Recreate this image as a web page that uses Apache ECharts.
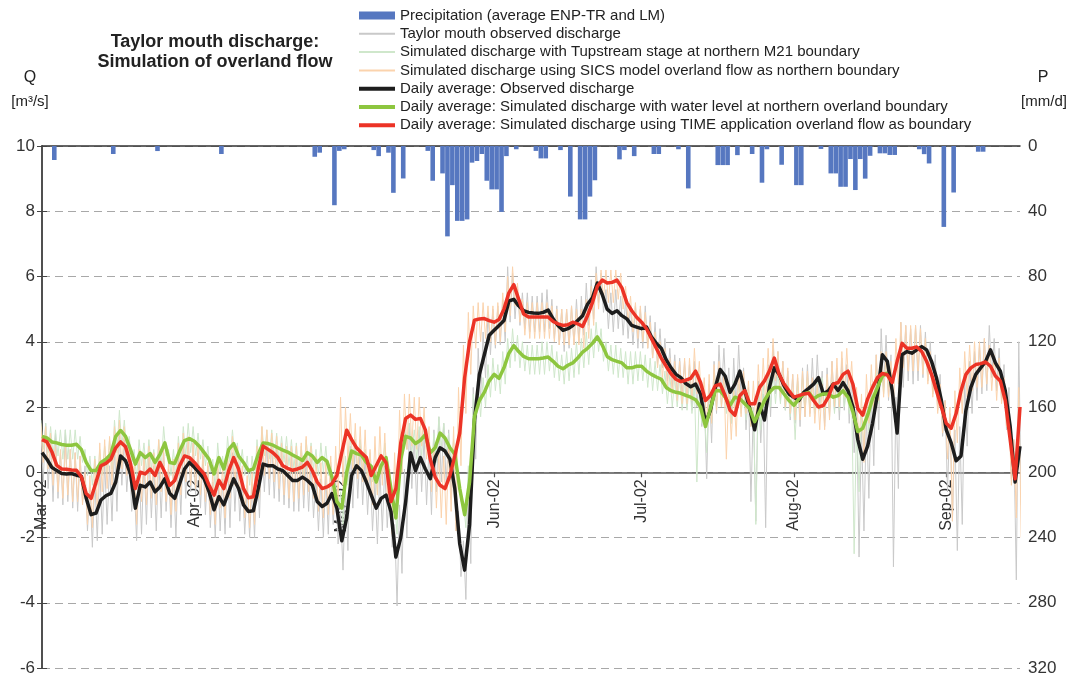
<!DOCTYPE html>
<html>
<head>
<meta charset="utf-8">
<script src="https://cdn.jsdelivr.net/npm/echarts@6/dist/echarts.min.js"></script>
<style>
  html, body { margin: 0; padding: 0; background: #fff; }
  #chart { width: 1074px; height: 677px; }
</style>
</head>
<body>
<div id="chart"></div>
<script>
// Day index 0 = 1 March 2002
const monthStartDays = [0, 31, 61, 92, 122, 153, 184];
const monthLabels = ['Mar-02', 'Apr-02', 'May-02', 'Jun-02', 'Jul-02', 'Aug-02', 'Sep-02'];
const qTicks = { min: -6, max: 10, step: 2 };
const pTicks = { min: 0, max: 320, step: 40 };

// Daily precipitation, mm/d
const precipDay = [2, 14, 23, 36, 55, 56, 59, 60, 61, 67, 68, 70, 71, 73, 78, 79, 81, 82, 83, 84,
  85, 86, 87, 88, 89, 90, 91, 92, 93, 94, 96, 100, 101, 102, 105, 107, 109, 110, 111, 112,
  117, 118, 120, 124, 125, 129, 131, 137, 138, 139, 141, 144, 146, 147, 150, 153, 154, 158, 160, 161,
  162, 163, 164, 165, 166, 167, 168, 170, 171, 172, 173, 178, 179, 180, 183, 185, 190, 191];
const precipMm = [8.6, 4.9, 3.1, 4.9, 6.6, 4.1, 36.3, 3, 2, 2.5, 6.2, 4.1, 28.7, 19.9, 3, 21.3, 16.8, 55.4, 24, 45.9,
  45.9, 45, 10.2, 9.2, 4.9, 21.3, 26.6, 26.6, 40.4, 6.2, 2, 3, 7.6, 7.6, 2.5, 31, 45, 45, 31, 21,
  8.2, 2.5, 6.2, 4.9, 4.9, 2, 26, 11.7, 11.7, 11.7, 5.6, 4.9, 22.5, 2, 11.5, 24, 24, 1.8, 16.8, 16.8,
  25, 25, 8, 27, 8, 20, 6, 4.5, 4.5, 5.5, 5.5, 2, 5, 10.7, 49.6, 28.5, 3.5, 3.5];

// Daily average discharge, m3/s
const observedDaily = [0.6,0.4,0.15,0.05,-0.04,-0.05,-0.04,-0.09,-0.12,-0.8,
  -1.3,-1.25,-0.85,-0.72,-0.65,-0.3,0.5,0.35,-0.04,-1.1,
  -0.4,-0.45,-0.3,-0.6,-0.45,-0.2,-0.65,-0.8,-0.35,0.1,
  0.3,0.15,-0.02,-0.2,-0.6,-1.15,-0.75,-1.0,-0.6,-0.2,
  -0.5,-1.0,-1.2,-1.18,-0.5,0.25,0.2,0.2,0.1,0.05,
  -0.1,-0.25,-0.25,-0.15,-0.25,-0.4,-0.9,-1.05,-0.95,-0.65,
  -1.1,-2.1,-1.4,-0.1,0.2,0.05,-0.3,-0.7,-1.1,-0.8,
  -0.7,-1.2,-2.6,-2.0,-0.9,0.6,0.05,0.45,0.1,-0.2,
  0.45,0.75,0.65,0.4,-0.5,-2.2,-3.0,-1.6,1.6,3.0,
  3.6,4.2,4.35,4.5,4.65,5.25,5.3,5.1,4.95,4.9,
  4.88,4.87,4.9,4.97,4.7,4.5,4.35,4.4,4.5,4.65,
  4.8,5.15,5.35,5.8,5.45,5.0,4.87,4.95,4.8,4.7,
  4.5,4.45,4.4,4.45,4.15,3.95,3.8,3.45,3.2,3.0,
  2.9,2.72,2.62,2.7,2.4,1.5,1.9,2.6,3.15,2.95,
  2.45,2.7,3.1,2.5,1.95,1.3,2.1,1.6,2.6,3.2,
  3.0,2.65,2.4,2.3,2.2,2.45,2.57,2.7,2.9,2.4,
  2.5,2.7,2.5,2.75,2.5,2.0,1.0,0.4,0.8,1.5,
  2.4,3.6,3.4,2.5,1.2,3.6,3.7,3.65,3.75,3.85,
  3.75,3.4,2.9,2.2,1.3,0.9,0.35,0.5,1.9,2.6,
  3.0,3.2,3.4,3.75,3.35,3.1,2.5,1.4,-0.3,0.8];

const waterLevelDaily = [1.1,1.05,0.93,0.9,0.85,0.83,0.83,0.86,0.7,0.3,
  0.05,0.05,0.3,0.4,0.55,1.1,1.28,1.1,0.7,0.25,
  0.6,0.45,0.57,0.3,0.55,0.9,0.3,0.27,0.65,0.97,
  1.03,0.95,0.8,0.6,0.4,-0.05,0.45,0.1,0.7,0.88,
  0.5,0.3,0.05,0.1,0.55,0.9,0.88,0.83,0.75,0.68,
  0.62,0.53,0.45,0.36,0.6,0.5,0.3,0.45,0.33,-0.15,
  -0.9,-1.1,0.0,0.65,0.57,0.53,0.3,0.18,-0.3,0.2,
  0.45,-0.5,-1.4,0.4,1.1,1.05,0.88,0.98,1.15,0.6,
  0.75,1.2,1.05,0.75,0.55,-0.5,-1.3,-0.3,1.7,2.2,
  2.45,2.8,3.0,2.88,3.2,3.65,3.88,3.7,3.55,3.48,
  3.48,3.48,3.5,3.53,3.4,3.25,3.17,3.28,3.35,3.5,
  3.68,3.8,3.95,4.15,3.9,3.55,3.45,3.4,3.35,3.2,
  3.2,3.25,3.25,3.1,3.0,2.92,2.85,2.6,2.5,2.45,
  2.42,2.36,2.3,2.22,2.0,1.4,1.95,2.5,2.5,2.3,
  2.05,2.3,2.25,2.1,1.95,1.55,1.85,2.2,2.45,2.6,
  2.6,2.4,2.2,2.05,2.25,2.4,2.45,2.25,2.35,2.4,
  2.4,2.3,2.35,2.5,2.3,1.85,1.25,1.35,1.75,2.25,
  2.6,2.95,3.05];

const timeAppDaily = [1.0,0.93,0.63,0.21,0.1,0.09,0.07,0.06,-0.14,-0.65,
  -0.8,-0.3,0.2,0.27,0.4,0.75,0.93,0.78,0.27,-0.5,
  0.0,-0.05,0.1,-0.1,0.3,0.0,-0.4,-0.25,0.2,0.5,
  0.45,0.3,0.12,-0.05,-0.4,-0.7,-0.25,-0.5,0.05,0.45,
  0.1,-0.5,-0.78,-0.75,0.1,0.8,0.7,0.6,0.45,0.2,
  0.12,0.06,0.1,0.16,0.3,0.05,-0.3,-0.5,-0.45,-0.35,
  -0.1,0.6,1.29,1.0,0.75,0.6,0.45,-0.1,0.2,0.5,
  0.3,-0.9,-0.5,0.9,1.65,1.75,1.62,1.65,1.3,0.4,
  -0.15,-0.4,-0.5,-0.1,0.5,1.2,2.9,4.0,4.66,4.7,
  4.71,4.65,4.6,4.68,5.0,5.5,5.75,5.3,4.85,4.76,
  4.76,4.76,4.76,4.76,4.62,4.55,4.5,4.52,4.6,4.55,
  4.47,4.8,5.2,5.7,5.89,5.8,5.82,5.89,5.65,5.2,
  4.95,4.75,4.6,4.4,4.1,3.8,3.5,3.25,3.02,2.85,
  2.78,2.82,2.88,3.1,2.75,2.2,2.35,2.65,2.7,2.35,
  1.9,1.75,2.35,2.5,2.1,2.1,2.6,2.8,3.1,3.5,
  3.0,2.7,2.5,2.3,2.35,2.4,2.42,2.2,2.0,2.05,
  2.3,2.7,2.75,3.0,3.1,2.7,1.95,1.75,2.25,2.6,
  2.9,3.03,2.98,2.75,3.4,3.95,3.8,3.8,3.84,3.7,
  3.4,3.0,2.5,2.0,1.5,1.35,1.8,2.5,3.0,3.2,
  3.3,3.33,3.38,3.25,2.95,2.8,2.2,1.0,-0.2,2.0];

// Sub-daily discharge: lowest and highest value of each day
const observedLow = [-0.3,-0.5,-0.9,-0.8,-1.0,-0.9,-1.1,-1.2,-0.9,-1.8,
  -2.3,-2.1,-1.9,-1.6,-1.5,-1.2,-0.4,-0.6,-1.2,-2.1,
  -1.9,-1.6,-1.4,-1.8,-1.4,-1.2,-1.7,-2.0,-1.3,-0.8,
  -0.6,-0.7,-1.1,-1.3,-1.7,-2.0,-1.8,-1.9,-1.7,-1.2,
  -1.5,-1.9,-2.0,-2.0,-1.4,-0.6,-0.7,-0.8,-0.9,-1.0,
  -1.1,-1.2,-1.2,-1.1,-1.2,-1.4,-1.8,-2.0,-1.9,-1.6,
  -2.2,-3.0,-2.4,-1.1,-0.8,-1.0,-1.3,-1.8,-2.2,-1.8,
  -1.7,-2.3,-4.1,-3.1,-2.0,-0.5,-1.0,-0.6,-1.0,-1.3,
  -0.6,-0.3,-0.4,-0.8,-1.8,-3.2,-3.9,-2.8,0.4,2.2,
  2.9,3.6,3.8,3.9,4.0,4.6,4.7,4.5,4.4,4.3,
  4.3,4.3,4.3,4.4,4.1,3.9,3.7,3.8,3.9,4.0,
  4.2,4.5,4.7,5.2,4.9,4.4,4.3,4.4,4.2,4.1,
  3.9,3.8,3.8,3.8,3.5,3.3,3.2,2.8,2.6,2.4,
  2.3,2.1,1.9,2.0,1.4,-0.2,0.9,1.8,2.4,2.2,
  1.5,1.9,2.3,1.3,-0.9,-1.5,0.9,-1.7,1.7,2.4,
  2.2,1.9,1.6,1.5,1.4,1.7,1.8,1.9,2.1,1.4,
  1.7,1.9,1.6,1.9,1.5,0.6,-2.6,-1.8,-0.8,0.2,
  1.3,2.6,2.2,-2.9,-0.5,2.6,2.8,2.7,2.8,2.9,
  2.8,2.4,1.9,1.1,-0.6,-1.5,-2.4,-1.6,0.8,1.8,
  2.2,2.4,2.5,2.9,2.5,2.2,1.3,-0.2,-3.3,-1.0];
const observedHigh = [1.4,1.5,0.9,1.2,0.6,1.3,0.7,0.6,0.5,0.2,
  -0.4,-0.2,0.2,0.3,0.2,0.8,1.2,1.0,0.6,-0.3,
  0.3,0.4,0.6,0.2,0.4,0.6,0.1,0.0,0.5,0.9,
  1.0,0.9,0.6,0.5,0.2,-0.3,0.1,-0.2,0.4,0.6,
  0.3,-0.2,-0.4,-0.3,0.4,1.0,0.9,0.9,0.8,0.7,
  0.6,0.5,0.5,0.6,0.5,0.4,-0.1,-0.2,-0.1,0.2,
  -0.3,-1.2,-0.5,0.8,1.0,0.8,0.5,0.2,-0.3,0.1,
  0.2,-0.3,-1.6,-1.0,0.1,1.5,1.0,1.3,1.1,0.8,
  1.3,1.7,1.5,1.3,0.4,-1.2,-2.1,-0.4,2.6,3.8,
  4.3,4.9,5.0,5.1,5.3,6.3,6.1,5.7,5.5,5.5,
  5.4,5.4,5.5,5.6,5.3,5.1,5.0,5.0,5.1,5.3,
  5.4,5.8,5.9,6.3,6.1,5.6,5.5,5.6,5.4,5.3,
  5.1,5.1,5.0,5.1,4.8,4.6,4.4,4.1,3.8,3.6,
  3.5,3.4,3.3,3.4,3.0,2.3,2.7,3.4,3.9,3.8,
  3.2,3.5,3.9,3.2,2.6,2.0,2.8,2.4,3.3,3.9,
  3.7,3.4,3.1,3.0,2.9,3.2,3.3,3.5,3.6,3.1,
  3.2,3.4,3.2,3.5,3.3,2.9,2.0,1.4,1.8,2.5,
  3.6,4.4,4.2,3.6,2.3,4.6,4.5,4.4,4.5,4.5,
  4.3,4.0,3.6,3.0,2.2,1.8,1.3,1.4,2.8,3.4,
  3.7,3.9,4.1,4.5,4.1,3.8,3.3,2.6,1.0,4.0];

const tupstreamLow = [0.7,0.6,0.5,0.5,0.4,0.4,0.4,0.4,0.3,-0.1,
  -0.4,-0.4,-0.1,0.0,0.1,0.6,0.8,0.6,0.3,-0.2,
  0.2,0.0,0.1,-0.1,0.1,0.5,-0.1,-0.2,0.2,0.5,
  0.6,0.5,0.4,0.2,0.0,-0.5,0.0,-0.3,0.3,0.4,
  0.1,-0.1,-0.4,-0.3,0.1,0.5,0.4,0.4,0.3,0.3,
  0.2,0.1,0.0,-0.1,0.2,0.1,-0.1,0.0,-0.1,-0.6,
  -1.4,-1.6,-0.4,0.2,0.1,0.1,-0.1,-0.3,-0.7,-0.2,
  0.0,-0.9,-1.9,0.0,0.7,0.6,0.4,0.5,0.7,0.2,
  0.3,0.8,0.6,0.3,0.1,-0.9,-1.7,-0.8,1.4,1.7,
  2.0,2.3,2.5,2.4,2.7,3.2,3.4,3.2,3.1,3.0,
  3.0,3.0,3.0,3.1,2.9,2.8,2.7,2.8,2.9,3.0,
  3.2,3.3,3.5,3.7,3.4,3.1,3.0,2.9,2.9,2.7,
  2.7,2.8,2.8,2.6,2.5,2.5,2.4,2.1,2.0,2.0,
  1.9,1.9,1.8,-0.3,1.5,0.6,1.5,2.0,2.0,1.8,
  1.5,1.8,1.8,1.6,1.4,-1.6,1.3,1.7,2.0,2.1,
  2.1,1.9,1.7,1.0,1.8,1.9,2.0,1.8,1.9,1.9,
  1.9,1.8,1.9,2.0,1.8,-2.5,-0.6,0.8,1.2,1.7,
  2.1,2.4,2.6];
const tupstreamHigh = [1.6,1.5,1.4,1.3,1.3,1.3,1.3,1.3,1.1,0.7,
  0.5,0.5,0.7,0.8,1.0,1.6,1.9,1.6,1.1,0.7,
  1.0,0.9,1.0,0.7,1.0,1.4,0.7,0.7,1.1,1.4,
  1.5,1.4,1.2,1.0,0.8,0.4,0.9,0.5,1.1,1.3,
  0.9,0.7,0.5,0.5,1.0,1.4,1.3,1.3,1.2,1.1,
  1.1,1.0,0.9,0.8,1.0,0.9,0.7,0.9,0.8,0.3,
  -0.4,-0.6,0.5,1.1,1.0,1.0,0.7,0.6,0.1,0.6,
  0.9,-0.1,-0.9,0.8,1.5,1.5,1.3,1.4,1.6,1.0,
  1.2,1.7,1.5,1.2,1.0,-0.1,-0.9,0.2,2.4,2.7,
  2.9,3.3,3.5,3.3,3.7,4.1,4.4,4.2,4.0,3.9,
  3.9,3.9,4.0,4.0,3.9,3.7,3.6,3.7,3.8,4.0,
  4.1,4.3,4.4,4.6,4.4,4.0,3.9,3.9,3.8,3.7,
  3.7,3.7,3.7,3.6,3.5,3.4,3.3,3.1,3.0,2.9,
  2.9,2.8,2.8,2.7,2.5,1.9,2.4,3.0,3.0,2.8,
  2.6,2.8,2.7,2.6,2.5,2.0,2.4,2.7,2.9,3.1,
  3.1,2.9,2.7,2.5,2.8,2.9,2.9,2.7,2.8,2.9,
  2.9,2.8,2.8,3.0,2.7,2.3,1.7,1.8,2.2,2.7,
  3.1,3.4,3.5];

const sicsLow = [0.3,0.1,-0.4,-0.6,-0.8,-0.7,-0.9,-0.9,-1.0,-1.6,
  -1.7,-1.2,-0.6,-0.5,-0.4,-0.1,0.1,-0.1,-0.6,-1.6,
  -0.9,-1.0,-0.8,-1.0,-0.6,-0.9,-1.3,-1.2,-0.7,-0.3,
  -0.4,-0.5,-0.7,-0.9,-1.3,-1.6,-1.1,-1.4,-0.8,-0.4,
  -0.8,-1.4,-1.7,-1.6,-0.8,-0.1,-0.2,-0.3,-0.5,-0.7,
  -0.8,-0.9,-0.8,-0.7,-0.6,-0.8,-1.2,-1.4,-1.3,-1.3,
  -1.0,-0.4,0.3,0.1,-0.2,-0.3,-0.5,-1.0,-0.7,-0.4,
  -0.7,-1.9,-1.4,0.0,0.7,0.8,0.7,0.8,0.4,-0.6,
  -1.1,-1.4,-1.6,-1.2,-1.8,0.2,1.8,3.0,3.8,4.0,
  4.1,4.0,3.9,4.0,4.3,4.8,5.1,4.6,4.2,4.1,
  4.1,4.1,4.1,4.1,4.0,3.9,3.9,3.9,3.9,3.9,
  3.8,4.1,4.5,5.0,5.3,5.2,5.2,5.3,5.0,4.6,
  4.3,4.1,4.0,3.8,3.5,3.2,2.9,2.6,2.4,2.2,
  2.1,2.1,2.2,2.4,2.0,1.4,1.5,1.9,2.0,0.4,
  1.0,1.1,1.7,1.8,1.4,1.4,1.9,2.1,2.4,2.8,
  2.3,2.0,1.8,1.6,1.6,1.7,1.7,1.5,1.3,1.3,
  1.6,2.0,2.0,2.3,2.4,2.0,0.8,0.3,1.5,1.9,
  2.2,2.3,2.3,2.0,2.7,3.2,3.1,3.1,3.1,3.0,
  2.7,2.3,1.8,1.2,0.4,-1.5,0.9,1.8,2.3,2.5,
  2.6,2.6,2.7,2.5,2.2,2.1,1.4,-0.4,-1.4,-2.0];
const sicsHigh = [1.5,1.4,1.2,0.8,0.7,0.8,0.7,0.6,0.5,0.0,
  -0.1,0.4,0.9,1.0,1.1,1.4,1.6,1.4,0.9,0.2,
  0.7,0.6,0.8,0.6,1.0,0.7,0.3,0.4,0.9,1.2,
  1.1,0.9,0.8,0.6,0.3,0.0,0.4,0.2,0.7,1.1,
  0.8,0.2,-0.1,0.0,0.8,1.4,1.3,1.2,1.1,0.9,
  0.8,0.8,0.8,0.9,1.1,0.8,0.5,0.3,0.4,0.5,
  0.8,2.3,2.0,1.8,1.5,1.4,1.3,0.7,1.1,1.4,
  1.2,0.1,0.6,1.9,2.4,2.4,2.3,2.3,2.0,1.4,
  0.8,0.6,0.5,0.8,1.4,2.6,3.9,4.9,5.1,5.2,
  5.2,5.1,5.1,5.2,5.5,6.0,6.3,5.8,5.3,5.2,
  5.2,5.2,5.2,5.2,5.1,5.0,5.0,5.0,5.1,5.0,
  5.0,5.3,5.7,6.1,6.2,6.2,6.2,6.2,6.1,5.7,
  5.4,5.2,5.1,4.9,4.6,4.3,4.0,3.8,3.5,3.4,
  3.4,3.5,3.5,3.8,3.4,2.9,3.0,3.3,3.4,3.0,
  2.5,2.5,3.1,3.1,2.8,2.8,3.3,3.5,3.8,4.1,
  3.7,3.4,3.2,3.0,3.0,3.1,3.1,2.9,2.7,2.7,
  3.0,3.4,3.5,3.7,3.8,3.4,2.6,2.4,3.0,3.3,
  3.6,3.7,3.7,3.4,4.1,4.6,4.5,4.5,4.5,4.4,
  4.1,3.7,3.2,2.7,2.2,2.0,2.5,3.2,3.7,3.9,
  4.0,4.0,4.1,3.9,3.6,3.5,2.9,1.8,1.0,2.6];

// Series names as shown in the legend
const names = {
  precip: 'Precipitation (average ENP-TR and LM)',
  obs: 'Taylor mouth observed discharge',
  tup: 'Simulated discharge with Tupstream stage at northern M21 boundary',
  sics: 'Simulated discharge using SICS model overland flow as northern boundary',
  obsAvg: 'Daily average: Observed discharge',
  wlAvg: 'Daily average: Simulated discharge with water level at northern overland boundary',
  timeAvg: 'Daily average: Simulated discharge using TIME application overland flow as boundary'
};

const colors = {
  precip: '#5677c0', obs: '#c9c9c9', tup: '#cfe7cb', sics: '#fbd3ad',
  obsAvg: '#1d1d1d', wlAvg: '#8dc63f', timeAvg: '#ec3326'
};

// Helpers that turn the arrays into [day, value] pairs
const daily = vals => vals.map((v, i) => [i, v]);
const dayRange = (lo, hi) => {
  const pts = [];
  lo.forEach((l, i) => { pts.push([i - 0.25, hi[i]]); pts.push([i + 0.25, l]); });
  return pts;
};
const precipData = precipDay.map((d, i) => [d + 0.5, precipMm[i]]);

const FONT = '"Liberation Sans", Arial, sans-serif';
const AXIS_COLOR = '#444';

function thinLine(name, color, data) {
  return {
    name, type: 'line', data, symbol: 'none', xAxisIndex: 0, yAxisIndex: 0,
    lineStyle: { color, width: 1 }, itemStyle: { color },
    emphasis: { disabled: true }, silent: true
  };
}
function thickLine(name, color, data) {
  return {
    name, type: 'line', data, symbol: 'none', xAxisIndex: 0, yAxisIndex: 0,
    lineStyle: { color, width: 3.5, join: 'round' }, itemStyle: { color },
    emphasis: { disabled: true }, silent: true
  };
}
// legend entry for a line: stroke only, no marker
const lineKey = (name, width) => ({ name, lineStyle: { width }, itemStyle: { opacity: 0 } });

const chart = echarts.init(document.getElementById('chart'), null, { renderer: 'canvas' });

chart.setOption({
  animation: false,
  backgroundColor: '#fff',
  textStyle: { fontFamily: FONT },
  grid: { left: 42, right: 54, top: 146, bottom: 9, containLabel: false, outerBoundsMode: 'none' },
  legend: {
    orient: 'vertical', left: 357, top: 8, padding: 0,
    itemWidth: 36, itemHeight: 8, itemGap: 3.3,
    textStyle: { fontSize: 15, color: '#222', fontFamily: FONT, lineHeight: 15 },
    selectedMode: false,
    data: [
      { name: names.precip, icon: 'rect', itemStyle: { color: colors.precip } },
      lineKey(names.obs, 2),
      lineKey(names.tup, 2),
      lineKey(names.sics, 2),
      lineKey(names.obsAvg, 4),
      lineKey(names.wlAvg, 4),
      lineKey(names.timeAvg, 4)
    ]
  },
  graphic: [
    { type: 'text', x: 215, y: 52, style: { text: 'Taylor mouth discharge:\nSimulation of overland flow',
      font: 'bold 18px ' + FONT, fill: '#222', textAlign: 'center', textVerticalAlign: 'middle', lineHeight: 20 } },
    { type: 'text', x: 30, y: 78, style: { text: 'Q', font: '16px ' + FONT, fill: '#222', textAlign: 'center', textVerticalAlign: 'middle' } },
    { type: 'text', x: 30, y: 102, style: { text: '[m³/s]', font: '15px ' + FONT, fill: '#222', textAlign: 'center', textVerticalAlign: 'middle' } },
    { type: 'text', x: 1043, y: 78, style: { text: 'P', font: '16px ' + FONT, fill: '#222', textAlign: 'center', textVerticalAlign: 'middle' } },
    { type: 'text', x: 1044, y: 102, style: { text: '[mm/d]', font: '15px ' + FONT, fill: '#222', textAlign: 'center', textVerticalAlign: 'middle' } }
  ],
  xAxis: [
    {
      type: 'value', min: 0, max: 199, position: 'bottom',
      axisLine: { show: true, onZero: false, lineStyle: { color: '#555', width: 1.5 } },
      axisTick: { show: true, customValues: monthStartDays, length: 5, lineStyle: { color: '#555', width: 1.2 } },
      axisLabel: {
        show: true, customValues: monthStartDays, rotate: 90, margin: 7,
        fontSize: 16, color: '#333', fontFamily: FONT,
        formatter: v => monthLabels[monthStartDays.indexOf(v)] || ''
      },
      splitLine: { show: false }
    },
    {
      type: 'value', min: 0, max: 199, position: 'top',
      axisLine: { show: true, onZero: false, lineStyle: { color: '#333', width: 1.5 } },
      axisTick: { show: false }, axisLabel: { show: false }, splitLine: { show: false }
    }
  ],
  yAxis: [
    {
      type: 'value', min: qTicks.min, max: qTicks.max, interval: qTicks.step, position: 'left',
      axisLine: { show: true, lineStyle: { color: AXIS_COLOR, width: 1.5 } },
      axisTick: { show: true, length: 5, lineStyle: { color: AXIS_COLOR } },
      axisLabel: { fontSize: 17, color: '#333', margin: 7, fontFamily: FONT },
      splitLine: { show: true, lineStyle: { color: '#a8a8a8', width: 1, type: [8, 5] } }
    },
    {
      type: 'value', min: pTicks.min, max: pTicks.max, interval: pTicks.step, position: 'right', inverse: true,
      axisLine: { show: true, lineStyle: { color: AXIS_COLOR, width: 1.5 } },
      axisTick: { show: true, length: 5, lineStyle: { color: AXIS_COLOR } },
      axisLabel: { fontSize: 17, color: '#333', margin: 8, fontFamily: FONT },
      splitLine: { show: false }
    }
  ],
  series: [
    {
      name: names.precip, type: 'bar', xAxisIndex: 0, yAxisIndex: 1, data: precipData,
      barWidth: 4.6, itemStyle: { color: colors.precip }, emphasis: { disabled: true }, silent: true
    },
    thinLine(names.obs, colors.obs, dayRange(observedLow, observedHigh)),
    thinLine(names.tup, colors.tup, dayRange(tupstreamLow, tupstreamHigh)),
    thinLine(names.sics, colors.sics, dayRange(sicsLow, sicsHigh)),
    thickLine(names.obsAvg, colors.obsAvg, daily(observedDaily)),
    thickLine(names.wlAvg, colors.wlAvg, daily(waterLevelDaily)),
    thickLine(names.timeAvg, colors.timeAvg, daily(timeAppDaily))
  ]
});

// The month axis sits on Q = 0: shift it up from the bottom of the grid
const zeroY = chart.convertToPixel({ yAxisIndex: 0 }, 0);
const bottomY = chart.convertToPixel({ yAxisIndex: 0 }, qTicks.min);
chart.setOption({ xAxis: [{ offset: zeroY - bottomY }] });
</script>
</body>
</html>
